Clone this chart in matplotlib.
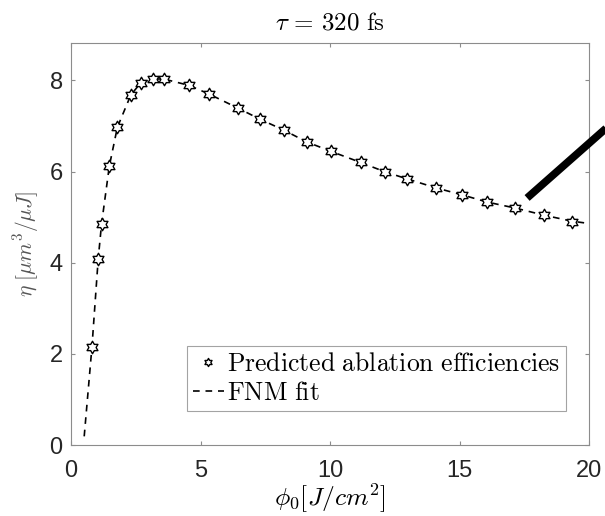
import matplotlib
matplotlib.use("Agg")
import matplotlib.pyplot as plt
from matplotlib.path import Path
import numpy as np

plt.rcParams["mathtext.fontset"] = "cm"
plt.rcParams["font.family"] = ["Liberation Sans", "DejaVu Sans"]

# predicted ablation efficiencies
phi_pts = [0.81, 1.05, 1.18, 1.48, 1.79, 2.31, 2.70, 3.15, 3.58, 4.56, 5.33, 6.45,
           7.29, 8.21, 9.10, 10.05, 11.18, 12.14, 12.97, 14.10, 15.09, 16.07,
           17.14, 18.28, 19.35]
eta_pts = [2.16, 4.08, 4.85, 6.12, 6.97, 7.68, 7.95, 8.03, 8.03, 7.89, 7.70, 7.39,
           7.15, 6.91, 6.65, 6.44, 6.20, 5.99, 5.84, 5.64, 5.49, 5.33,
           5.20, 5.04, 4.89]

# FNM fit curve
phi_fit = [0.51, 0.81, 1.05, 1.18, 1.48, 1.79, 2.31, 2.70, 3.15, 3.58, 4.56, 5.33,
           6.45, 7.29, 8.21, 9.10, 10.05, 11.18, 12.14, 12.97, 14.10, 15.09,
           16.07, 17.14, 18.28, 19.35, 20.0]
eta_fit = [0.19, 2.16, 4.08, 4.85, 6.12, 6.97, 7.68, 7.95, 8.03, 8.03, 7.89, 7.70,
           7.39, 7.15, 6.91, 6.65, 6.44, 6.20, 5.99, 5.84, 5.64, 5.49,
           5.33, 5.20, 5.04, 4.91, 4.86]

# thick pointer line
pointer_x = [17.61, 21.0]
pointer_y = [5.42, 7.12]


# matlab style hexagram (star of david outline)
def hexagram():
    ang = np.pi / 2 + np.arange(12) * np.pi / 6
    r = np.where(np.arange(12) % 2 == 0, 1.0, 1.0 / np.sqrt(3))
    verts = np.column_stack([r * np.cos(ang), r * np.sin(ang)])
    verts = np.vstack([verts, verts[:1]])
    codes = [Path.MOVETO] + [Path.LINETO] * 11 + [Path.CLOSEPOLY]
    return Path(verts, codes)


fig = plt.figure(figsize=(6.05, 5.16), dpi=100)
ax = fig.add_axes([71 / 605, 1 - 445 / 516, 518 / 605, 402 / 516])

ax.plot(phi_pts, eta_pts, linestyle="none", marker=hexagram(), markersize=9,
        markerfacecolor="white", markeredgecolor="black", markeredgewidth=1.0,
        label=r"$\mathrm{Predicted\ ablation\ efficiencies}$", zorder=3)
ax.plot(phi_fit, eta_fit, color="black", linestyle=(0, (4, 3.5)), linewidth=1.2,
        label=r"$\mathrm{FNM\ fit}$", zorder=2)
ax.plot(pointer_x, pointer_y, color="black", linewidth=5.5, solid_capstyle="butt",
        clip_on=False, zorder=4)

ax.set_xlim(0, 20)
ax.set_ylim(0, 8.82)
ax.set_xticks([0, 5, 10, 15, 20])
ax.set_yticks([0, 2, 4, 6, 8])

for s in ax.spines.values():
    s.set_color("0.55")
    s.set_linewidth(0.8)
ax.tick_params(direction="in", length=3, width=0.8, color="0.55",
               labelsize=17, labelcolor="#262626", top=True, right=True)
ax.tick_params(axis="x", pad=11)
ax.tick_params(axis="y", pad=6)

ax.set_title(r"$\tau\,=\,320\ \mathrm{fs}$", fontsize=18, pad=10)
ax.set_xlabel(r"$\phi_0[J/cm^2]$", fontsize=18.5, labelpad=0)
ax.set_ylabel(r"$\eta\ [\mu m^3/\mu J]$", fontsize=15.5, labelpad=6, color="#555555")

leg = ax.legend(loc="upper left", bbox_to_anchor=(0.224, 0.246), borderaxespad=0,
                fontsize=18.5, frameon=True, fancybox=False, edgecolor="0.55",
                handlelength=1.2, handletextpad=0.15, borderpad=0.22,
                labelspacing=0.2, markerscale=0.65)
leg.get_frame().set_linewidth(0.8)

fig.savefig("out.png", dpi=100)
